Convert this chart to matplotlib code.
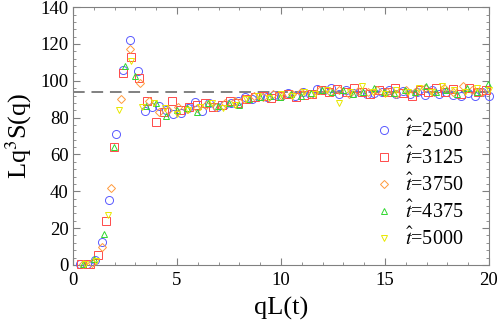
import numpy as np
import matplotlib
matplotlib.use("Agg")
import matplotlib.pyplot as plt
from matplotlib.ticker import MultipleLocator

plt.rcParams['font.family'] = ['Liberation Serif', 'DejaVu Serif']
plt.rcParams['mathtext.fontset'] = 'stix'

# qL(t) grid spacing of each run and the measured Lq^3 S(q) values
labels = ["2500", "3125", "3750", "4375", "5000"]
dq = [0.345, 0.397, 0.457, 0.4985, 0.555]

y_2500 = [0.3, 0.5, 2.5, 12.3, 35.5, 71, 106, 122, 105.5, 83.5,
          86, 86.5, 84, 82, 82.5, 85, 88.5, 83.5, 88, 86,
          87, 88, 89, 91, 90, 92, 91, 92.5, 92, 93.5,
          92, 94, 93, 95.5, 95, 96, 93, 95, 93.5, 94,
          93, 93.5, 94, 95, 93, 94.5, 93, 94, 92.5, 95,
          93, 94, 92.5, 92, 93.5, 92, 94, 91.5]
y_3125 = [0.3, 0.6, 5.4, 24, 64, 104, 113, 101.5, 89, 77.5,
          83, 89, 84, 86, 87, 88, 85.5, 87, 89, 88,
          90, 91, 92, 90.5, 92, 93, 91, 92.5, 93, 95,
          94, 95.5, 94, 96, 94, 93, 95, 94, 96, 93.5,
          92, 95, 94, 96, 94, 95.5, 93, 96, 94, 95]
y_3750 = [0.3, 1, 9.8, 42, 90, 117.5, 99, 89, 83, 84,
          86, 84.5, 85, 87, 86, 88, 89, 90, 92, 91,
          93, 92, 93, 94, 93, 95, 94, 95, 93, 94.5,
          94, 95, 94, 93, 95, 94, 96, 94, 96, 94,
          97, 95, 94]
y_4375 = [0.5, 3, 17, 64, 108, 102.5, 86.5, 88, 81, 84,
          85, 83, 88, 86.5, 88, 87, 90, 91, 92, 91,
          93, 92, 93.5, 95, 94, 95, 93, 94, 96, 94,
          93.5, 95, 94, 97, 94, 95, 93, 96, 94, 98.5]
y_5000 = [0.3, 2, 27, 84, 111, 86, 88, 85, 82, 84,
          86, 88, 85, 87, 90, 92, 90.5, 93, 92, 94,
          93, 95, 88, 94, 97, 94, 93, 95, 94, 96,
          94, 97, 95, 94, 96, 95]
series = [y_2500, y_3125, y_3750, y_4375, y_5000]

plateau = 94

colors = ['#5a5aff', '#ff4a4a', '#ff9a3c', '#2fd82f', '#e8e800']
markers = ['o', 's', 'D', '^', 'v']
sizes = [5.8, 5.2, 4.0, 4.8, 4.8]

fig = plt.figure(figsize=(5, 3.25), dpi=100)
ax = fig.add_axes([0.146, 0.185, 0.832, 0.793])

ax.axhline(plateau, color='#808080', lw=1.4, dashes=(6, 3.5), zorder=1)

for d, y, lab, c, m, s in zip(dq, series, labels, colors, markers, sizes):
    x = d * np.arange(1, len(y) + 1)
    ax.plot(x, y, linestyle='none', marker=m, markersize=s,
            markerfacecolor='none', markeredgecolor=c, markeredgewidth=0.7,
            label=r"$\hat{t}$=" + lab, clip_on=False, zorder=3)

ax.set_xlim(0, 20)
ax.set_ylim(0, 140)
ax.xaxis.set_major_locator(MultipleLocator(5))
ax.xaxis.set_minor_locator(MultipleLocator(1))
ax.yaxis.set_major_locator(MultipleLocator(20))
ax.yaxis.set_minor_locator(MultipleLocator(4))
ax.tick_params(which='both', direction='in', top=True, right=True,
               color='#808080', labelsize=13.5)
ax.tick_params(axis='x', pad=5)
ax.tick_params(axis='y', pad=3)
ax.tick_params(which='major', length=5)
ax.tick_params(which='minor', length=2.5)
for sp in ax.spines.values():
    sp.set_color('#808080')

ax.set_xlabel('qL(t)', fontsize=19, labelpad=6)
ax.set_ylabel('Lq$^3$S(q)', fontsize=19, labelpad=5)

ax.legend(loc='center left', bbox_to_anchor=(0.71, 0.31), frameon=False,
          fontsize=14.5, handlelength=0.8, handletextpad=0.6, labelspacing=0.25,
          borderaxespad=0)

fig.savefig('out.png', dpi=100)
